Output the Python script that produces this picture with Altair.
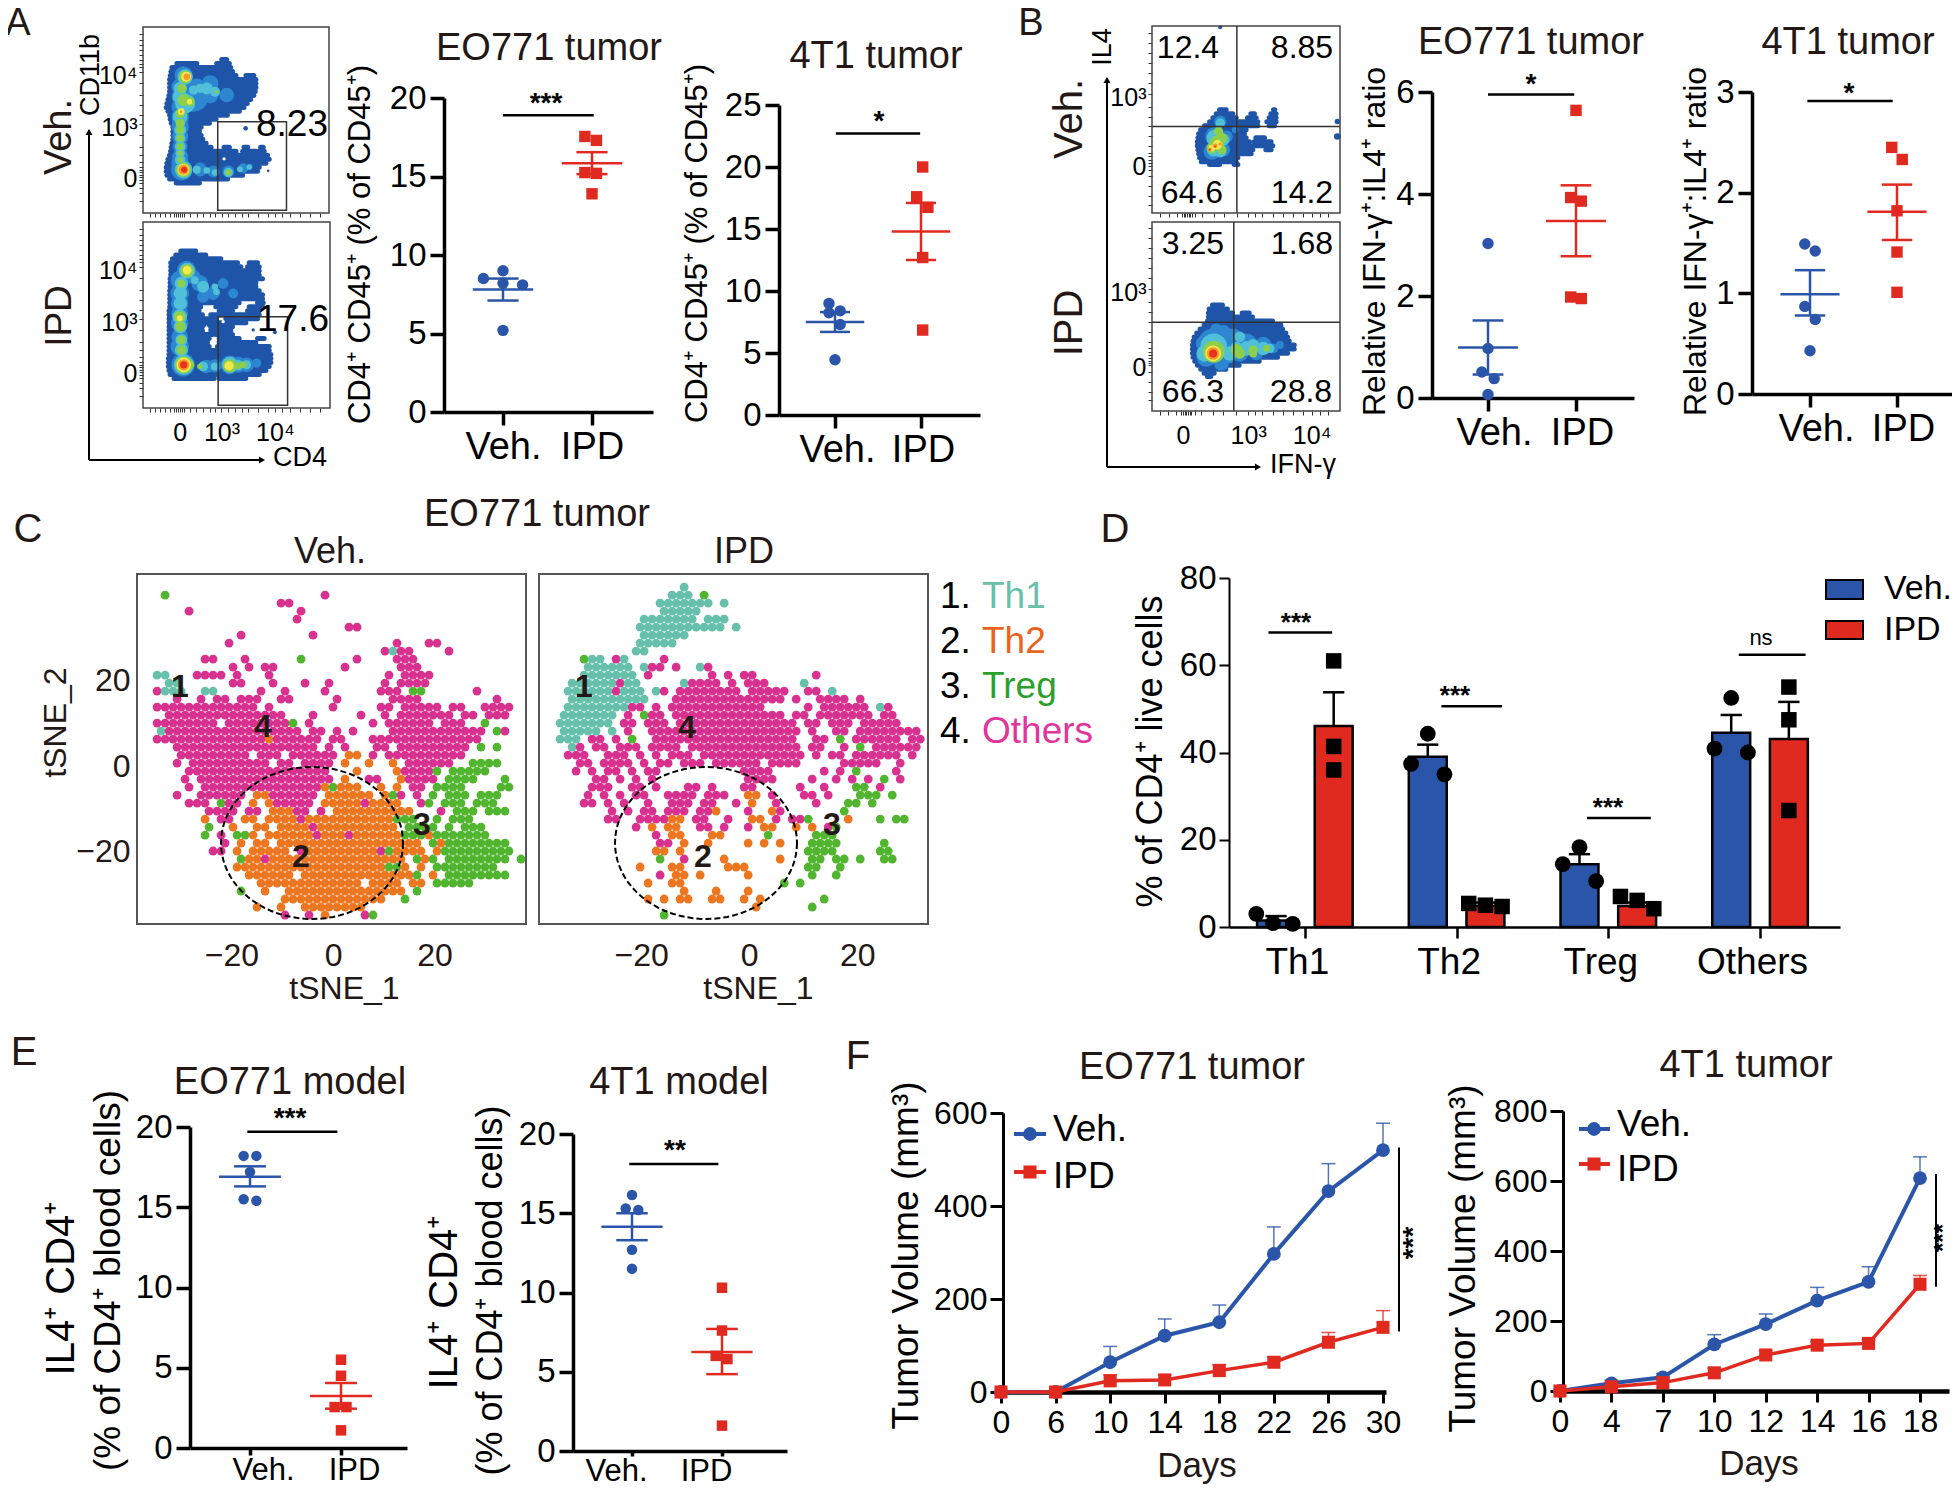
import altair as alt
import math
import pandas as pd

W, H = 1944, 1477
FONT = "Liberation Sans"
BLUE = "#2a55a8"
RED = "#e02a20"
INK = "#231815"
ONE = alt.Data(values=[{"a": 1}])

# ---------- A: dot plots ----------
A1_VEH = [8.5, 9.0, 8.2, 8.1, 5.2]
A1_VEH_DX = [-.22, 0, 0, .22, 0]
A1_VEH_STAT = [7.8, 7.1, 8.5]
A1_IPD = [17.55, 17.3, 15.25, 15.2, 13.9]
A1_IPD_DX = [-.08, .05, -.08, .05, 0]
A1_IPD_STAT = [15.85, 15.15, 16.55]
A2_VEH = [9.0, 8.25, 8.4, 7.3, 4.45]
A2_VEH_DX = [-.07, -.07, .06, .06, 0]
A2_VEH_STAT = [7.5, 6.7, 8.3]
A2_IPD = [20.0, 17.6, 16.75, 12.7, 6.85]
A2_IPD_DX = [.02, -.05, .08, .02, .02]
A2_IPD_STAT = [14.8, 12.5, 17.1]
# ---------- B: dot plots ----------
B1_VEH = [3.03, .97, .51, .38, .07]
B1_VEH_DX = [0, 0, -.07, .07, 0]
B1_VEH_STAT = [.99, .46, 1.52]
B1_IPD = [5.64, 3.93, 3.86, 1.98, 1.95]
B1_IPD_DX = [0, -.06, .06, -.06, .06]
B1_IPD_STAT = [3.47, 2.78, 4.17]
B2_VEH = [1.49, 1.42, .87, .74, .43]
B2_VEH_DX = [-.06, .06, -.06, .06, 0]
B2_VEH_STAT = [.99, .78, 1.23]
B2_IPD = [2.45, 2.33, 1.82, 1.41, 1.01]
B2_IPD_DX = [-.06, .06, 0, 0, 0]
B2_IPD_STAT = [1.81, 1.53, 2.08]
# ---------- E: dot plots ----------
E1_VEH = [18.2, 18.2, 17.2, 15.5, 15.4]
E1_VEH_DX = [-.07, .07, 0, -.07, .07]
E1_VEH_STAT = [16.9, 16.3, 17.55]
E1_IPD = [5.5, 4.5, 2.55, 2.55, 1.1]
E1_IPD_DX = [0, 0, -.07, .06, 0]
E1_IPD_STAT = [3.24, 2.45, 4.05]
E2_VEH = [16.15, 15.3, 15.2, 12.7, 11.5]
E2_VEH_DX = [0, -.07, .07, 0, 0]
E2_VEH_STAT = [14.15, 13.3, 15.0]
E2_IPD = [10.3, 7.6, 6.0, 5.8, 1.6]
E2_IPD_DX = [0, 0, -.07, .06, 0]
E2_IPD_STAT = [6.25, 4.85, 7.7]
# ---------- D: bars ----------
D_GROUPS = ["Th1", "Th2", "Treg", "Others"]
D_VEH = [1.5, 39.0, 14.4, 44.5]
D_VEH_UP = [2.5, 41.8, 16.7, 48.6]
D_IPD = [46.1, 4.8, 4.8, 43.1]
D_IPD_UP = [53.8, 5.6, 5.6, 51.6]
D_VEH_PTS = [[3.0, .9, .7], [44.3, 37.4, 35.0], [18.3, 14.4, 10.5], [52.5, 40.9, 40.0]]
D_VEH_DX = [[-.13, -.02, .11], [0, -.11, .11], [0, -.11, .11], [0, -.11, .11]]
D_IPD_PTS = [[61.0, 41.4, 36.0], [5.4, 5.0, 4.7], [7.0, 6.1, 4.2], [55.0, 47.5, 26.7]]
D_IPD_DX = [[0, 0, 0], [-.11, 0, .11], [-.11, 0, .11], [0, 0, 0]]
D_SIG = [("***", 67.5), ("***", 50.6), ("***", 25.0), ("ns", 62.4)]
# ---------- F: growth curves ----------
F1_DAYS = ["0", "6", "10", "14", "18", "22", "26", "30"]
F1_VEH = [0, 0, 64, 121, 150, 297, 432, 520]
F1_VEH_UP = [0, 0, 98, 157, 187, 355, 491, 578]
F1_IPD = [0, 0, 24, 26, 46, 64, 107, 139]
F1_IPD_UP = [0, 0, 37, 37, 59, 75, 128, 175]
F2_DAYS = ["0", "4", "7", "10", "12", "14", "16", "18"]
F2_VEH = [0, 22, 39, 133, 191, 258, 312, 608]
F2_VEH_UP = [0, 31, 50, 161, 220, 296, 355, 669]
F2_IPD = [0, 12, 24, 52, 103, 131, 136, 305]
F2_IPD_UP = [0, 18, 32, 65, 115, 141, 146, 330]

# ---------- C: tSNE map, read cell by cell (p Others, o Th2, g Treg, t Th1) ----------
TSNE_VEH = [
"................................................",
"................................................",
"...g...................p........................",
".................pp.............................",
"......p.............p...........................",
"...................p............................",
"..........................pp....................",
"............p........p..........................",
"...........p....................p...pp..........",
"..............................ptpp....p.........",
"........pp...p......g......p....ppp.............",
"...........p.p.pp........p......ppp.............",
"..tt...pppp.p...p..............p.pppp...........",
"...tt......pp...p...p..p......p.pppp............",
"..pttt..tt.....p..p....p......ppp.gg......p.....",
"....p..p.pp.ppp..pp.....p......pppp.........p...",
"..ppppppppppppp.p.......p.....pp.ppppp.pp..pppp.",
"...ppppppppppppppp...p.....p..p.ppppppp.pp.ppp..",
"..pppppppp.ppppppppg.p.......p.pppppp.ppp..g....",
"..tppppppppppppppppp.pp.p.p....pppppppppppp.gp..",
"..ppppppppppppppopppppp.pp...pppppppppppppp.....",
"....pppppppppppppppppp.p.p...pp.ppppppppp.g.g...",
".....ppppppppp.ppp.pppppp.oo.p.pppppppppp.......",
"....p.pppppppppp.pp.pppp.o..o..o.pppppp..gggg...",
"......pppppppppppppppppp...o....oppppg.ggggg....",
".....p.ppppppppppppppppp.o..pp..opppp.gggg...g..",
"......p.pppppppppppppppogooo..o.o.pp.gggg....gg.",
"....p..pppppp.oopppppp.oooooo.ogp.p.g.ggg.ggg...",
"......ppp.gpp.o.oppppp.ooooopoooo..pg.ggg.ggg...",
"........pppp.pp.ooopp.p.oooooooooo...p.ggg.ggg..",
"........o.pp.oo.oooopoooooooooooggg..g.ggg......",
"........g..o..oo.oooopoooooooooo.gggg.g.ggg.....",
"........g.p.ggo.oooooopooopoooooogggoggggggg....",
"..........p.o.oo.oooooooooooooooooo.gogggggggg..",
".........pp.o.ooooo.pooooooooopgoooo.oggggggggg.",
"............goopooooooooooooooooo.gog.gggggggg.g",
"............oooooooooooooooooooggo.o.gggggggg...",
".............oooooo.oooooooooooooog.o.gggggggg..",
"...............ooooooooooooo.oooo.oo.ggggg......",
"............g..o..ooooooooooooooo.g.............",
"..................ooooooooooooo..g..............",
"..............o..o..oooooooo....................",
"..................p..p.o....pg..................",
"................................................",
]
TSNE_IPD = [
"................................................",
".................t..............................",
"................ttt.g...........................",
"..............ttttttt.t.........................",
"...............ttttt............................",
"............ttttttt.ttt.........................",
"............ttttttttttt.t.......................",
"............tttttt..............................",
"............ttttt...............................",
"...........tt...................................",
".....gtt.pt....p................................",
".....tttttt.tpp.p..tp...........................",
".....ttttttt.p.......p.p.pp.......p.............",
"...ttttttptt.....tpppp.p.ppp....t...............",
"...ttttttpttt.tp.pppppppp.ppppp..pp.t...........",
"...tttttttttt...pppppppppppppp.p..pppp.p........",
"...ttttttttpp.p.pppppppppppp.....p.pppppp.tp....",
"..ttttttt.p.gpp.pppppppppppppp.pp.ppppppp.pp....",
"..ttttttt.pp.ppp.ppppppppppppppp.pp.ppp.ppppp...",
"..ttttt.t.p..ppppppppppppppppppp.p..pp.pppppppp.",
"..ttt.pp.p.g..pppppppppppppppppp..pp.g.pppppp.pp",
"...tp.pp.ppp.pppp.pppppppppppppp.pp..p.g.pppppp.",
"...ppp..ppp.p.p.ppp.ppppppppppppp.p.pp.pppppp.p.",
"....pp.pppp.p.pp.ppp.pppppp.pppp.....ppppp..p...",
"....p.p.pp.p.pp..........pppp......p.p.g....p...",
"......pp.p.p.p...........pppp....p..p.p.p.g.p...",
"......ppp..pp.p...pp.p...pp.....p..p...gg.p.....",
".....p.p.p.pp..pppp.ppp..oo.p...pp.p...ggg.g....",
".....pp.p.p..p..ppp.pp..p.o..p....p...gg.g......",
"........p.p.pp.ppp.ppo...p..op.......g..........",
"........pp..ppppoo.pp..p..oo.p.ppg....o...g.gg..",
"...........p.o.oo..pp.p..p.oo..o.o.pg...........",
"..............p.oo...oo.....g.....ggg...........",
"..............pp.o..o....o.o.o...gggg.....g.....",
"..............oo.o...............gggg.....gg....",
"..............g..p....o......o...gg.gg.g..gg....",
"............o...oo.....ooo.......gg..g..........",
"..............p.oo.o.....o.......g..g...........",
".............o..oo............g.g...............",
".................o...o...o......................",
".............o.o.oo..oo..o.o.......g............",
"..........................o......g..............",
"...............g................................",
"................................................",
]
TSNE_COLORS = {"p": "#d9318f", "o": "#ec7720", "g": "#52b52f", "t": "#66c0ab"}

# ---------- flow cytometry: outer contour read as scan lines (y, x0, x1) ----------
EDGE_A1 = [(118,365,380),(130,230,290),(130,350,388),(142,215,392),(154,212,398),(166,210,408),(166,438,462),(178,208,468),
(190,208,468),(202,208,468),(214,208,466),(226,206,462),(238,203,452),(250,200,442),(262,198,432),(274,203,418),(286,208,382),
(298,210,348),(310,213,328),(322,218,303),(334,218,298),(346,218,303),(358,218,308),(370,215,318),(382,213,333),(382,372,388),
(382,432,443),(382,482,490),(394,211,408),(394,428,468),(394,478,493),(406,208,503),(418,203,508),(430,200,498),(442,198,478),
(454,198,473),(466,200,428),(478,208,383),(490,228,298)]
EDGE_A2 = [(692,243,288),(704,228,318),(716,218,363),(728,213,413),(728,448,473),(740,213,423),(740,443,478),(752,213,478),
(764,213,478),(776,211,488),(788,211,468),(800,211,468),(812,210,478),(824,210,488),(836,210,488),(848,210,418),(848,473,490),
(860,210,303),(860,348,408),(860,448,488),(872,208,298),(872,358,398),(872,443,478),(884,208,308),(884,333,478),(896,208,348),
(896,378,473),(908,208,438),(920,208,313),(920,328,398),(932,208,308),(932,333,393),(944,208,338),(944,348,398),(956,208,328),
(956,358,418),(956,473,493),(968,208,323),(968,358,468),(980,208,328),(980,353,508),(992,208,508),(1004,208,513),(1016,206,513),
(1028,206,513),(1040,206,508),(1052,208,498),(1064,211,478),(1076,223,343),(1076,358,438)]
EDGE_B1 = [(270,238,258),(270,400,404),(282,228,278),(282,332,343),(282,392,408),(294,218,288),(294,322,348),(294,387,408),
(306,208,353),(306,380,408),(318,193,353),(318,387,403),(330,181,318),(342,175,313),(354,173,318),(354,347,373),(366,171,328),
(366,342,393),(378,171,398),(390,173,338),(390,377,393),(402,175,333),(414,178,293),(426,183,288),(434,208,238),(434,282,293)]
EDGE_B2 = [(855,218,248),(867,208,263),(879,206,278),(879,307,328),(891,206,338),(903,203,398),(915,193,423),(927,181,428),
(939,171,438),(951,163,443),(963,160,448),(975,158,463),(987,158,463),(999,158,443),(1011,160,413),(1023,165,358),(1035,173,298),
(1047,183,258),(1059,193,223),(1069,203,213)]

# ---------- flow cytometry: inner density levels as stacked blobs (cx, cy, radius, level) ----------
LEVELS = ["#ffffff", "#1f55a8", "#2d86d0", "#4fc0d8", "#8ccf4a", "#f2e84c", "#f59a2a", "#e8321e"]
FLOW_A1 = [
(505,453,4,1),(437,325,7,1),(372,417,5,0),
(250,165,27,2),(330,190,25,2),(280,230,45,2),(240,300,25,2),(240,380,22,2),(245,450,32,2),(300,445,18,2),(385,455,18,2),(450,440,8,2),
(240,200,26,2),(240,230,26,2),(240,260,26,2),(240,290,26,2),(240,320,26,2),(240,350,24,2),(240,410,24,2),(240,430,26,2),(290,200,25,2),(330,225,25,2),(380,225,22,2),(300,450,20,2),(340,455,18,2),(430,445,15,2),
(255,170,23,3),(320,205,18,3),(345,215,15,3),(255,250,30,3),(240,330,18,3),(240,400,14,3),(250,450,26,3),(290,450,12,3),(385,458,14,3),(448,442,8,3),
(240,205,20,3),(240,230,22,3),(240,290,22,3),(240,355,16,3),(240,380,16,3),(240,420,16,3),(300,205,14,3),(280,210,14,3),(320,452,10,3),(345,458,10,3),(420,448,9,3),
(255,170,19,4),(250,240,18,4),(270,245,14,4),(240,280,14,4),(240,330,12,4),(240,400,8,4),(250,450,22,4),(385,458,9,4),(350,215,5,4),
(245,205,14,4),(240,310,14,4),(240,355,11,4),(240,380,10,4),(240,420,9,4),
(258,170,15,5),(268,245,8,5),(243,275,10,5),(250,450,18,5),
(260,170,10,6),(250,450,15,6),(243,275,4,6),
(252,450,9,7),
]
FLOW_A2 = [
(320,925,6,0),(370,905,5,0),(460,930,5,1),(525,937,6,1),
(260,750,28,2),(300,790,25,2),(240,880,25,2),(240,950,25,2),(250,1035,35,2),(320,1040,20,2),(390,1035,28,2),(440,1035,22,2),(340,820,20,2),(400,820,15,2),
(240,780,28,2),(240,820,28,2),(240,850,26,2),(240,910,26,2),(240,980,28,2),(280,770,22,2),(310,830,18,2),(370,790,16,2),(345,1038,20,2),(415,1035,24,2),(470,1030,14,2),
(262,752,24,3),(310,800,18,3),(240,890,22,3),(245,960,18,3),(252,1035,30,3),(310,1040,15,3),(390,1035,24,3),(440,1035,14,3),(350,815,10,3),
(245,790,20,3),(242,820,20,3),(242,850,20,3),(242,920,20,3),(245,990,20,3),(345,1040,12,3),(415,1036,16,3),(285,780,12,3),(345,800,10,3),
(262,752,20,4),(240,890,17,4),(245,960,13,4),(252,1035,26,4),(300,1040,8,4),(390,1038,20,4),(430,1035,10,4),
(245,790,12,4),(242,920,15,4),(245,990,14,4),(270,1035,14,4),(415,1038,10,4),
(262,750,13,5),(240,895,9,5),(252,1035,22,5),(388,1038,14,5),
(252,1035,17,6),
(252,1035,11,7),
]
FLOW_B1 = [
(592,305,8,1),(592,350,10,1),(240,22,6,1),
(240,305,18,2),(225,350,30,2),(215,395,25,2),(285,330,10,2),(250,390,20,2),(260,350,18,2),
(240,310,14,3),(225,355,26,3),(220,390,20,3),(250,360,18,3),(240,395,18,3),
(235,335,14,4),(230,370,22,4),(215,385,16,4),(245,355,16,4),(245,390,14,4),
(232,375,14,5),(215,385,10,5),
(225,378,7,6),(210,388,5,6),(240,373,5,6),
(208,390,3,7),(225,380,3,7),
]
FLOW_B2 = [
(220,970,45,2),(265,1000,30,2),(320,970,30,2),(370,975,25,2),(400,985,15,2),(230,930,20,2),
(200,1010,30,2),(245,1030,22,2),(300,1000,25,2),(350,1000,20,2),(420,975,12,2),(280,950,25,2),(250,940,25,2),(190,970,22,2),
(222,980,40,3),(270,1000,22,3),(320,985,22,3),(370,985,20,3),(195,1000,25,3),(300,950,16,3),(290,985,20,3),(340,975,18,3),(390,985,14,3),
(222,995,33,4),(290,990,18,4),(340,990,14,4),(380,985,10,4),(300,1000,16,4),(340,1000,12,4),
(220,1000,24,5),
(220,1000,19,6),
(220,1000,12,7),
]
A_MINOR_X = [150,165,180,195,210,222,228,234,240,246,252,270,290,310,330,345,365,385,405,425,445,475,505,525,545,570,600,630,660]
A_MINOR_Y = [40,60,75,90,105,120,130,140,155,190,225,255,285,312,345,380,405,425,440,450,458,465,472,480,490,505,520,545]
B_MINOR_X = [60,85,110,125,130,135,140,145,150,155,165,185,220,250,290,325,345,365,400,430,460,490,515,540,565]
B_MINOR_Y = [40,70,100,130,160,190,222,260,290,320,350,380,400,410,420,429,438,450,470,500,530,555]


def px(v):
    return v - 8


def qs(dom, rng):
    return alt.Scale(domain=dom, range=[px(rng[0]), px(rng[1])], nice=False, zero=False)


def txt(s, x, y, size=30, angle=0, align="center", color=INK, weight="normal"):
    return alt.Chart(ONE).mark_text(font=FONT, fontSize=size, angle=angle % 360, align=align, baseline="middle",
                                    color=color, fontWeight=weight, text=s).encode(
        x=alt.value(px(x)), y=alt.value(px(y)))


def hline(x0, x1, y, color="black", w=2):
    return alt.Chart(ONE).mark_rule(color=color, strokeWidth=w).encode(
        x=alt.value(px(x0)), x2=alt.value(px(x1)), y=alt.value(px(y)))


def vline(x, y0, y1, color="black", w=2):
    return alt.Chart(ONE).mark_rule(color=color, strokeWidth=w).encode(
        x=alt.value(px(x)), y=alt.value(px(y0)), y2=alt.value(px(y1)))


def blob(x, y, size, color, shape="circle"):
    return alt.Chart(ONE).mark_point(shape=shape, filled=True, opacity=1, size=size, color=color).encode(
        x=alt.value(px(x)), y=alt.value(px(y)))


def yaxis(X, title, tx, ty, vals, size=31, tfont=30, tick=14, w=3.5, pad=4):
    return alt.Axis(orient="left", offset=-px(X), values=vals, title=title, titleX=tx - X, titleY=px(ty),
                    titleAngle=270, titleAlign="center", titleBaseline="middle", titleFontSize=tfont,
                    labelFontSize=size, tickSize=tick, tickWidth=w, domainWidth=w, domainColor="black",
                    tickColor="black", labelColor="black", titleColor="black", labelPadding=pad,
                    labelOverlap=False, labelFlush=False, labelBound=False, grid=False)


def xaxis(Y, vals, expr=None, size=38, tick=13, w=3.5, pad=3, off=0):
    extra = dict(labelExpr=expr) if expr else {}
    return alt.Axis(orient="bottom", offset=px(Y) - H, values=vals, title=None, labelFontSize=size,
                    tickSize=tick, tickWidth=w, domainWidth=w, domainColor="black", tickColor="black",
                    labelColor="black", labelPadding=pad, labelAngle=0, labelOffset=off,
                    labelOverlap=False, labelFlush=False, labelBound=False, grid=False, **extra)


def dot_panel(xa, xe, veh, ipd, y0, yt, ymax, yvals, ytitle, ytx, yty, sets, sig, off=0, ysize=33, tfont=31,
              xsize=38, xtick=13, xpad=3):
    u = ipd - veh
    sx = qs([1 - (veh - xa) / u, 1 + (xe - veh) / u], (xa, xe))
    sy = qs([0, ymax], (y0, yt))
    layers = []
    frame = pd.DataFrame({"x": [1, 2], "y": [0, 0]})
    layers.append(alt.Chart(frame).mark_point(opacity=0).encode(
        x=alt.X("x:Q", scale=sx, axis=xaxis(y0, [1, 2], "datum.value==1?'Veh.':'IPD'", off=off, size=xsize, tick=xtick, pad=xpad)),
        y=alt.Y("y:Q", scale=sy, axis=yaxis(xa, ytitle, ytx, yty, yvals, tfont=tfont, size=ysize))))
    for g, (vals, dx, stat, color, shape, size) in enumerate(sets):
        pts = pd.DataFrame({"x": [g + 1 + d for d in dx], "y": vals})
        layers.append(alt.Chart(pts).mark_point(shape=shape, filled=True, opacity=1, size=size, color=color).encode(
            x=alt.X("x:Q", scale=sx, axis=None), y=alt.Y("y:Q", scale=sy, axis=None)))
        mean, lo, hi = stat
        c = g + 1
        segs = pd.DataFrame({"x": [c - .34, c - .175, c - .175, c], "x2": [c + .34, c + .175, c + .175, c],
                             "y": [mean, lo, hi, lo], "y2": [mean, lo, hi, hi]})
        layers.append(alt.Chart(segs).mark_rule(color=color, strokeWidth=2.5).encode(
            x=alt.X("x:Q", scale=sx, axis=None), x2="x2:Q",
            y=alt.Y("y:Q", scale=sy, axis=None), y2="y2:Q"))
    sg = pd.DataFrame({"x": [sig[0]], "x2": [sig[1]], "y": [sig[2]]})
    layers.append(alt.Chart(sg).mark_rule(color="black", strokeWidth=2.5).encode(
        x=alt.X("x:Q", scale=sx, axis=None), x2="x2:Q", y=alt.Y("y:Q", scale=sy, axis=None)))
    return layers


def flow_panel(edge, blobs, box_x, box_y, dom_x, dom_y, xvals, yvals, xlab, ylab, show_x=False, rects=None, rules=None):
    sx = qs(dom_x, box_x)
    sy = qs([dom_y[1], dom_y[0]], (box_y[1], box_y[0]))
    df = pd.DataFrame(blobs, columns=["x", "y", "r", "level"])
    df["order"] = range(len(df))
    df["s"] = [(2 * r / 3) ** 2 for r in df["r"]]
    df["c"] = [LEVELS[l] for l in df["level"]]
    ax_y = alt.Axis(orient="left", offset=-px(box_x[0]), values=yvals, title=None, labelFontSize=25, tickSize=4,
                    tickWidth=1, domain=False, labelPadding=2, labelColor="black", tickColor="#333", labelOffset=4,
                    labelOverlap=False, labelFlush=False, labelBound=False, grid=False,
                    labelExpr=ylab)
    ax_x = alt.Axis(orient="bottom", offset=px(box_y[1]) - H, values=xvals, title=None, labelFontSize=25, tickSize=4,
                    tickWidth=1, domain=False, labelPadding=8, labelColor="black", tickColor="#333",
                    labelOverlap=False, labelFlush=False, labelBound=False, grid=False, labelAngle=0,
                    labelExpr=xlab if show_x else "''")
    ed = pd.DataFrame(edge, columns=["y", "x", "x2"])
    layers = [alt.Chart(ed).mark_rule(color=LEVELS[1], strokeWidth=5, strokeCap="round").encode(
        x=alt.X("x:Q", scale=sx, axis=ax_x), x2="x2:Q", y=alt.Y("y:Q", scale=sy, axis=ax_y))]
    layers.append(alt.Chart(df).mark_circle(opacity=1).encode(
        x=alt.X("x:Q", scale=sx, axis=None), y=alt.Y("y:Q", scale=sy, axis=None),
        size=alt.Size("s:Q", scale=None), color=alt.Color("c:N", scale=None), order="order:Q"))
    frame = pd.DataFrame({"x": [dom_x[0]], "x2": [dom_x[1]], "y": [dom_y[0]], "y2": [dom_y[1]]})
    layers.append(alt.Chart(frame).mark_rect(fillOpacity=0, stroke="#444", strokeWidth=1.5).encode(
        x=alt.X("x:Q", scale=sx, axis=None), x2="x2:Q", y=alt.Y("y:Q", scale=sy, axis=None), y2="y2:Q"))
    if rects:
        rd = pd.DataFrame(rects, columns=["x", "x2", "y", "y2"])
        layers.append(alt.Chart(rd).mark_rect(fillOpacity=0, stroke="#333", strokeWidth=1.5).encode(
            x=alt.X("x:Q", scale=sx, axis=None), x2="x2:Q", y=alt.Y("y:Q", scale=sy, axis=None), y2="y2:Q"))
    if rules:
        rd = pd.DataFrame(rules, columns=["x", "x2", "y", "y2"])
        layers.append(alt.Chart(rd).mark_rule(color="#333", strokeWidth=1.5).encode(
            x=alt.X("x:Q", scale=sx, axis=None), x2="x2:Q", y=alt.Y("y:Q", scale=sy, axis=None), y2="y2:Q"))
    return layers


def tsne_panel(grid, box_x, box_y, dom_x, x0, xu, lab_vals, title_x):
    sx = qs(dom_x, box_x)
    dom_y = [-37, 45]
    sy = qs(dom_y, (box_y[1], box_y[0]))
    rows = []
    for r, line in enumerate(grid):
        for c, ch in enumerate(line[:48]):
            if ch in TSNE_COLORS:
                x_real = box_x[0] + 4 + 8 * c + (4 if r % 2 else 0)
                y_real = 579 + 8 * r
                rows.append({"x": (x_real - x0) / xu, "y": (766 - y_real) / 4.27, "c": TSNE_COLORS[ch]})
    df = pd.DataFrame(rows)
    ax_x = alt.Axis(orient="bottom", offset=px(box_y[1]) - H, values=lab_vals, title="tSNE_1", titleFontSize=32,
                    titleX=title_x - 8, titleY=988 - box_y[1], titleBaseline="middle", titleAlign="center",
                    labelFontSize=32, tickSize=0, domain=False, labelPadding=16, labelColor=INK, titleColor=INK,
                    grid=False, labelOverlap=False)
    layers = [alt.Chart(df).mark_circle(opacity=1, size=78).encode(
        x=alt.X("x:Q", scale=sx, axis=ax_x),
        y=alt.Y("y:Q", scale=sy, axis=None),
        color=alt.Color("c:N", scale=None))]
    frame = pd.DataFrame({"x": [dom_x[0]], "x2": [dom_x[1]], "y": [dom_y[0]], "y2": [dom_y[1]]})
    layers.append(alt.Chart(frame).mark_rect(fillOpacity=0, stroke="#555", strokeWidth=2).encode(
        x=alt.X("x:Q", scale=sx, axis=None), x2="x2:Q", y=alt.Y("y:Q", scale=sy, axis=None), y2="y2:Q"))
    return layers


def ellipse(cx, cy, rx, ry):
    pts = [{"i": i, "x": cx + rx * math.cos(i * math.pi / 40), "y": cy + ry * math.sin(i * math.pi / 40)} for i in range(81)]
    sx = alt.Scale(domain=[0, W], range=[0, W], nice=False, zero=False)
    sy = alt.Scale(domain=[0, H], range=[0, H], nice=False, zero=False)
    return alt.Chart(pd.DataFrame(pts)).mark_line(color="black", strokeWidth=2, strokeDash=[6, 3]).encode(
        x=alt.X("x:Q", scale=sx, axis=None), y=alt.Y("y:Q", scale=sy, axis=None), order="i:Q")


def curve_panel(days, veh, veh_up, ipd, ipd_up, x0, xlast, xe, xa, y0, yt, ymax, yvals, ty, tx):
    unit = (xlast - x0) / 7
    sx = qs([0, (xe - x0) / unit], (x0, xe))
    sy = qs([0, ymax], (y0, yt))
    idx = list(range(8))
    expr = str(days) + "[datum.value]"
    ax_x = alt.Axis(orient="bottom", offset=px(y0) - H, values=idx, title=None, labelFontSize=32, tickSize=11, tickWidth=3,
                    domainWidth=4.5, domainColor="black", tickColor="black", labelColor="black", labelPadding=4,
                    labelAngle=0, grid=False, labelExpr=expr, labelOverlap=False, labelFlush=False, labelBound=False)
    ax_y = yaxis(xa, "Tumor Volume (mm³)", tx, ty, yvals, size=32, tfont=37, tick=13, w=3, pad=3)
    cap = 7 / unit
    layers = [alt.Chart(pd.DataFrame({"i": idx, "v": [0] * 8})).mark_point(opacity=0).encode(
        x=alt.X("i:Q", scale=sx, axis=ax_x), y=alt.Y("v:Q", scale=sy, axis=ax_y))]
    for vals, up, color in [(veh, veh_up, BLUE), (ipd, ipd_up, RED)]:
        df = pd.DataFrame({"i": idx, "v": vals, "u": up, "c0": [i - cap for i in idx], "c1": [i + cap for i in idx]})
        layers.append(alt.Chart(df).mark_rule(color=color, strokeWidth=1.5, opacity=.8).encode(
            x=alt.X("i:Q", scale=sx, axis=None), y=alt.Y("v:Q", scale=sy, axis=None), y2="u:Q"))
        layers.append(alt.Chart(df).mark_rule(color=color, strokeWidth=1.5, opacity=.8).encode(
            x=alt.X("c0:Q", scale=sx, axis=None), x2="c1:Q", y=alt.Y("u:Q", scale=sy, axis=None)))
    for vals, color, shape, sz, sw in [(veh, BLUE, "circle", 190, 4), (ipd, RED, "square", 170, 3.5)]:
        df = pd.DataFrame({"i": idx, "v": vals})
        layers.append(alt.Chart(df).mark_line(color=color, strokeWidth=sw).encode(
            x=alt.X("i:Q", scale=sx, axis=None), y=alt.Y("v:Q", scale=sy, axis=None)))
        layers.append(alt.Chart(df).mark_point(shape=shape, filled=True, opacity=1, size=sz, color=color).encode(
            x=alt.X("i:Q", scale=sx, axis=None), y=alt.Y("v:Q", scale=sy, axis=None)))
    return layers


def bar_panel():
    xa, xe, y0, yt = 1229, 1840, 927, 578
    sx = qs([.5, 4.527], (xa, xe))
    sy = qs([0, 80], (y0, yt))
    base = pd.DataFrame({"x": [1, 2, 3, 4], "y": [0, 0, 0, 0], "g": D_GROUPS})
    expr = "['','Th1','Th2','Treg','Others'][datum.value]"
    layers = []
    for off, vals, ups, col in [(-.19, D_VEH, D_VEH_UP, BLUE), (.19, D_IPD, D_IPD_UP, RED)]:
        df = pd.DataFrame({"x": [i + 1 + off - .125 for i in range(4)], "x2": [i + 1 + off + .125 for i in range(4)],
                           "y": vals, "u": ups, "m": [i + 1 + off for i in range(4)],
                           "c0": [i + 1 + off - .07 for i in range(4)], "c1": [i + 1 + off + .07 for i in range(4)],
                           "z": [0, 0, 0, 0]})
        layers.append(alt.Chart(df).mark_rule(color="black", strokeWidth=2.5).encode(
            x=alt.X("m:Q", scale=sx, axis=None), y=alt.Y("y:Q", scale=sy, axis=None), y2="u:Q"))
        layers.append(alt.Chart(df).mark_rule(color="black", strokeWidth=2.5).encode(
            x=alt.X("c0:Q", scale=sx, axis=None), x2="c1:Q", y=alt.Y("u:Q", scale=sy, axis=None)))
        layers.append(alt.Chart(df).mark_rect(color=col, stroke="black", strokeWidth=2.5).encode(
            x=alt.X("x:Q", scale=sx, axis=None), x2="x2:Q", y=alt.Y("y:Q", scale=sy, axis=None), y2="z:Q"))
    layers.append(alt.Chart(base).mark_point(opacity=0).encode(
        x=alt.X("x:Q", scale=sx, axis=xaxis(y0, [1, 2, 3, 4], expr, size=37, tick=11, w=2.5, pad=6, off=-8)),
        y=alt.Y("y:Q", scale=sy, axis=yaxis(xa, "% of CD4⁺ live cells", 1150, 751, [0, 20, 40, 60, 80], size=33,
                                            tfont=36, tick=10, w=2, pad=3))))
    for off, pts, dx, shape, size in [(-.19, D_VEH_PTS, D_VEH_DX, "circle", 250), (.19, D_IPD_PTS, D_IPD_DX, "square", 240)]:
        rows = [{"x": i + 1 + off + d, "y": v} for i, (ps, ds) in enumerate(zip(pts, dx)) for v, d in zip(ps, ds)]
        layers.append(alt.Chart(pd.DataFrame(rows)).mark_point(shape=shape, filled=True, opacity=1, size=size, color="black").encode(
            x=alt.X("x:Q", scale=sx, axis=None), y=alt.Y("y:Q", scale=sy, axis=None)))
    sig = pd.DataFrame({"x": [.76, 1.9, 2.86, 3.86], "x2": [1.18, 2.3, 3.28, 4.3], "y": [s[1] for s in D_SIG]})
    layers.append(alt.Chart(sig).mark_rule(color="black", strokeWidth=2.5).encode(
        x=alt.X("x:Q", scale=sx, axis=None), x2="x2:Q", y=alt.Y("y:Q", scale=sy, axis=None)))
    return layers


A_FX = "datum.value==240?'0':datum.value==365?'10³':datum.value==525?'10⁴':''"
A_FY1 = "datum.value==155?'10⁴':datum.value==312?'10³':datum.value==465?'0':''"
A_FY2 = "datum.value==740?'10⁴':datum.value==897?'10³':datum.value==1050?'0':''"
B_FX = "datum.value==130?'0':datum.value==325?'10³':datum.value==515?'10⁴':''"
B_FY1 = "datum.value==222?'10³':datum.value==429?'0':''"
B_FY2 = "datum.value==807?'10³':datum.value==1030?'0':''"

panels = []
# Panel A flow
ax = sorted(set(A_MINOR_X + [240, 365, 525]))
panels += flow_panel(EDGE_A1, FLOW_A1, (143, 329), (27, 213), [128, 688], [20, 580], ax, A_MINOR_Y, A_FX, A_FY1,
                     rects=[(353, 560, 305, 572)])
panels += flow_panel(EDGE_A2, FLOW_A2, (143, 330), (222, 408), [130, 690], [605, 1165], ax,
                     [v + 585 for v in A_MINOR_Y], A_FX, A_FY2, show_x=True, rects=[(355, 563, 890, 1157)])
# Panel B flow
bx = sorted(set(B_MINOR_X + [130, 325, 515]))
panels += flow_panel(EDGE_B1, FLOW_B1, (1152, 1340), (26, 213), [35, 600], [18, 580], bx, B_MINOR_Y, B_FX, B_FY1,
                     rules=[(290, 290, 18, 580), (35, 600, 320, 320)])
panels += flow_panel(EDGE_B2, FLOW_B2, (1152, 1340), (222, 411), [37, 600], [607, 1172], bx,
                     [v + 585 for v in B_MINOR_Y if v + 585 != 807 and v + 585 != 1030] + [807, 1030], B_FX, B_FY2, show_x=True,
                     rules=[(282, 282, 607, 1172), (37, 600, 907, 907)])
# Dot plots
A_T = "CD4⁺ CD45⁺ (% of CD45⁺)"
B_T = "Relative IFN-γ⁺:IL4⁺ ratio"
E_T = "(% of CD4⁺ blood cells)"
panels += dot_panel(444, 653, 503, 592, 412, 98, 20, [0, 5, 10, 15, 20], A_T, 360, 244,
    [(A1_VEH, A1_VEH_DX, A1_VEH_STAT, BLUE, "circle", 130), (A1_IPD, A1_IPD_DX, A1_IPD_STAT, RED, "square", 130)],
    (1, 2.02, 18.9))
panels += dot_panel(779, 980, 835, 921, 415, 105, 25, [0, 5, 10, 15, 20, 25], A_T, 697, 243,
    [(A2_VEH, A2_VEH_DX, A2_VEH_STAT, BLUE, "circle", 130), (A2_IPD, A2_IPD_DX, A2_IPD_STAT, RED, "square", 130)],
    (1.01, 1.99, 22.7), off=2)
panels += dot_panel(1432, 1634, 1488, 1576, 398, 92, 6, [0, 2, 4, 6], B_T, 1374, 241,
    [(B1_VEH, B1_VEH_DX, B1_VEH_STAT, BLUE, "circle", 130), (B1_IPD, B1_IPD_DX, B1_IPD_STAT, RED, "square", 130)],
    (1, 1.98, 5.95), off=6, tfont=32)
panels += dot_panel(1752, 1956, 1810, 1897, 394, 92, 3, [0, 1, 2, 3], B_T, 1695, 241,
    [(B2_VEH, B2_VEH_DX, B2_VEH_STAT, BLUE, "circle", 130), (B2_IPD, B2_IPD_DX, B2_IPD_STAT, RED, "square", 130)],
    (.97, 1.95, 2.91), off=6, tfont=32)
panels += dot_panel(190, 407, 250, 341, 1448, 1127, 20, [0, 5, 10, 15, 20], E_T, 108, 1280,
    [(E1_VEH, E1_VEH_DX, E1_VEH_STAT, BLUE, "circle", 110), (E1_IPD, E1_IPD_DX, E1_IPD_STAT, RED, "square", 110)],
    (.97, 1.96, 19.7), off=13, tfont=37, xsize=31, xtick=7, xpad=0)
panels += dot_panel(573, 787, 632, 722, 1451, 1134, 20, [0, 5, 10, 15, 20], E_T, 490, 1290,
    [(E2_VEH, E2_VEH_DX, E2_VEH_STAT, BLUE, "circle", 110), (E2_IPD, E2_IPD_DX, E2_IPD_STAT, RED, "square", 110)],
    (.97, 1.96, 18.1), off=-16, tfont=36, xsize=31, xtick=5, xpad=0)
# tSNE
panels += tsne_panel(TSNE_VEH, (137, 526), (574, 924), [-38.6, 38], 333, 5.08, [-20, 0, 20], 344)
panels += tsne_panel(TSNE_IPD, (539, 928), (574, 924), [-38.9, 33.1], 748, 5.4, [-20, 0, 20], 758)
panels += bar_panel()
# Growth curves
panels += curve_panel(F1_DAYS, F1_VEH, F1_VEH_UP, F1_IPD, F1_IPD_UP, 1001, 1383, 1386, 1003, 1392, 1113, 600,
                      [0, 200, 400, 600], 1255, 906)
panels += curve_panel(F2_DAYS, F2_VEH, F2_VEH_UP, F2_IPD, F2_IPD_UP, 1560, 1920, 1949, 1563, 1391, 1111, 800,
                      [0, 200, 400, 600, 800], 1258, 1463)

# tSNE y axis labels, drawn through a y scale of its own
ty_scale = qs([-37, 45], (924, 574))
panels.append(alt.Chart(pd.DataFrame({"y": [-20, 0, 20]})).mark_point(opacity=0).encode(
    y=alt.Y("y:Q", scale=ty_scale, axis=alt.Axis(orient="left", offset=-px(137), values=[-20, 0, 20], title="tSNE_2",
            titleFontSize=32, titleX=55 - 137, titleY=px(722), titleAngle=270, titleBaseline="middle", titleAlign="center",
            labelFontSize=32, tickSize=0, domain=False, labelPadding=7, labelColor=INK, titleColor=INK, grid=False,
            labelOverlap=False))))

notes = [
    ellipse(px(312), px(843), 91, 76), ellipse(px(706), px(843), 91, 76),
    # panel letters
    txt("A", 18, 24, 38), txt("B", 1031, 24, 38), txt("C", 28, 530, 40), txt("D", 1115, 530, 40),
    txt("E", 24, 1053, 40), txt("F", 858, 1057, 40),
    # panel A
    txt("Veh.", 60, 137, 38, -90), txt("IPD", 60, 316, 37, -90),
    txt("8.23", 292, 125, 37, color="black"), txt("17.6", 293, 320, 37, color="black"),
    txt("CD11b", 91, 75, 27, -90, color="black"), txt("CD4", 300, 458, 27, color="black"),
    vline(89, 460, 130), hline(89, 262, 460), blob(89, 132, 50, "black", "triangle-up"), blob(262, 460, 50, "black", "triangle-right"),
    txt("EO771 tumor", 549, 49, 38), txt("4T1 tumor", 876, 57, 38),
    txt("***", 546, 104, 28, weight="bold", color="black"), txt("*", 879, 122, 28, weight="bold", color="black"),
    # panel B
    txt("Veh.", 1070, 119, 40, -90), txt("IPD", 1070, 323, 40, -90),
    txt("IL4", 1103, 47, 27, -90, color="black"), txt("IFN-γ", 1303, 465, 27, color="black"),
    vline(1107, 467, 78), hline(1107, 1258, 467), blob(1107, 80, 50, "black", "triangle-up"), blob(1258, 467, 50, "black", "triangle-right"),
    txt("12.4", 1188, 48, 32, color="black"), txt("8.85", 1302, 48, 32, color="black"),
    txt("64.6", 1192, 193, 32, color="black"), txt("14.2", 1302, 193, 32, color="black"),
    txt("3.25", 1193, 244, 32, color="black"), txt("1.68", 1302, 244, 32, color="black"),
    txt("66.3", 1193, 392, 32, color="black"), txt("28.8", 1301, 392, 32, color="black"),
    txt("EO771 tumor", 1531, 43, 38), txt("4T1 tumor", 1848, 43, 38),
    txt("*", 1531, 85, 28, weight="bold", color="black"), txt("*", 1849, 94, 28, weight="bold", color="black"),
    # panel C
    txt("EO771 tumor", 537, 515, 38), txt("Veh.", 330, 552, 36), txt("IPD", 744, 552, 36),
    txt("1", 180, 687, 32, weight="bold"), txt("4", 263, 727, 32, weight="bold"), txt("2", 301, 857, 32, weight="bold"), txt("3", 422, 825, 32, weight="bold"),
    txt("1", 584, 687, 32, weight="bold"), txt("4", 687, 728, 32, weight="bold"), txt("2", 703, 857, 32, weight="bold"), txt("3", 832, 825, 32, weight="bold"),
    txt("1.", 940, 597, 37, align="left", color="black"), txt("Th1", 982, 597, 37, align="left", color="#69bfa8"),
    txt("2.", 940, 642, 37, align="left", color="black"), txt("Th2", 982, 642, 37, align="left", color="#e8631c"),
    txt("3.", 940, 687, 37, align="left", color="black"), txt("Treg", 982, 687, 37, align="left", color="#2ca02c"),
    txt("4.", 940, 732, 37, align="left", color="black"), txt("Others", 982, 732, 37, align="left", color="#e0359b"),
    # panel D
    txt("***", 1296, 623, 26, weight="bold", color="black"), txt("***", 1455, 696, 26, weight="bold", color="black"),
    txt("***", 1608, 808, 26, weight="bold", color="black"), txt("ns", 1761, 638, 22, color="black"),
    # panel E
    txt("EO771 model", 290, 1083, 38), txt("4T1 model", 679, 1083, 38),
    txt("***", 290, 1119, 28, weight="bold", color="black"), txt("**", 675, 1151, 28, weight="bold", color="black"),
    txt("IL4⁺ CD4⁺", 62, 1288, 40, -90, color="black"), txt("IL4⁺ CD4⁺", 445, 1302, 40, -90, color="black"),
    # panel F
    txt("EO771 tumor", 1192, 1068, 38), txt("4T1 tumor", 1746, 1066, 38),
    txt("Days", 1197, 1466, 35), txt("Days", 1759, 1464, 35),
    txt("Veh.", 1053, 1130, 37, align="left", color="black"), txt("IPD", 1053, 1177, 37, align="left", color="black"),
    hline(1014, 1046, 1134, BLUE, 4), blob(1030, 1134, 190, BLUE), hline(1014, 1046, 1172, RED, 4), blob(1030, 1172, 170, RED, "square"),
    txt("Veh.", 1617, 1125, 37, align="left", color="black"), txt("IPD", 1617, 1170, 37, align="left", color="black"),
    hline(1579, 1610, 1129, BLUE, 4), blob(1594, 1129, 190, BLUE), hline(1579, 1610, 1164, RED, 4), blob(1594, 1164, 170, RED, "square"),
    txt("***", 1414, 1243, 28, -90, weight="bold", color="black"), txt("***", 1944, 1238, 24, -90, weight="bold", color="black"),
]
sig_scale_f1 = qs([0, 600], (1392, 1113))
notes.append(alt.Chart(pd.DataFrame({"y": [130], "y2": [526]})).mark_rule(color="black", strokeWidth=2).encode(
    x=alt.value(px(1399)), y=alt.Y("y:Q", scale=sig_scale_f1, axis=None), y2="y2:Q"))
sig_scale_f2 = qs([0, 800], (1391, 1111))
notes.append(alt.Chart(pd.DataFrame({"y": [298], "y2": [620]})).mark_rule(color="black", strokeWidth=2).encode(
    x=alt.value(px(1936)), y=alt.Y("y:Q", scale=sig_scale_f2, axis=None), y2="y2:Q"))
# panel D legend swatches
notes += [
    alt.Chart(ONE).mark_rect(color=BLUE, stroke="black", strokeWidth=2).encode(
        x=alt.value(px(1826)), x2=alt.value(px(1863)), y=alt.value(px(580)), y2=alt.value(px(599))),
    alt.Chart(ONE).mark_rect(color=RED, stroke="black", strokeWidth=2).encode(
        x=alt.value(px(1826)), x2=alt.value(px(1863)), y=alt.value(px(621)), y2=alt.value(px(639))),
    txt("Veh.", 1884, 589, 34, align="left", color="black"), txt("IPD", 1884, 630, 34, align="left", color="black"),
]

chart = alt.layer(*panels, *notes).resolve_scale(x="independent", y="independent").resolve_axis(
    x="independent", y="independent"
).properties(
    width=W, height=H, padding=0, background="white",
    autosize=alt.AutoSizeParams(type="none", contains="content")
).configure_view(stroke=None).configure_axis(
    labelFont=FONT, titleFont=FONT, titleFontWeight="normal", labelFontWeight="normal", grid=False
)
chart.save("out.html", embed_options={"renderer": "svg", "actions": False})
